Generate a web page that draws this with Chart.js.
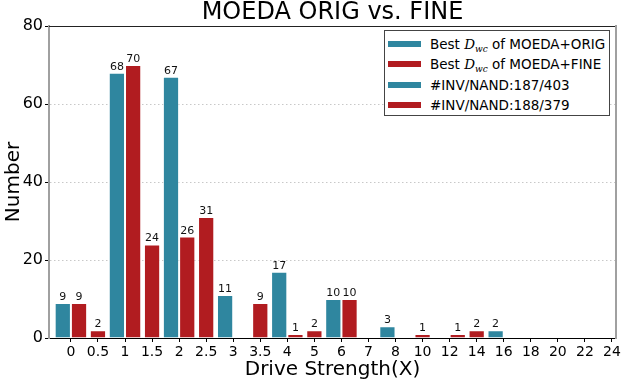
<!DOCTYPE html>
<html>
<head>
<meta charset="utf-8">
<script src="https://cdn.jsdelivr.net/npm/chart.js@4.4.1/dist/chart.umd.min.js"></script>
<style>
  html, body { margin: 0; padding: 0; background: #fff; }
  #wrap { position: relative; width: 623px; height: 382px; }
  #legend {
    position: absolute; left: 384px; top: 30px; width: 226px; height: 86px;
    box-sizing: border-box; border: 1px solid #444; background: #fff;
    padding-top: 3px; font-family: 'DejaVu Sans', sans-serif; font-size: 13.5px; color: #000;
  }
  .row { height: 20.3px; line-height: 20.3px; white-space: nowrap; position: relative; }
  .patch { position: absolute; left: 3px; top: 7px; width: 33px; height: 6px; }
  .txt { position: absolute; left: 45px; top: 0; }
  .m { font-family: 'DejaVu Serif', serif; font-style: italic; }
  .m sub { font-size: 9px; vertical-align: -3px; line-height: 0; }
</style>
</head>
<body>
<div id="wrap">
  <canvas id="chart" width="623" height="382"></canvas>
  <div id="legend"></div>
</div>
<script>
// x categories (drive strength) and bar counts
const driveLabels = ['0', '0.5', '1', '1.5', '2', '2.5', '3', '3.5', '4', '5', '6', '7', '8', '10', '12', '14', '16', '18', '20', '22', '24'];
const origCounts = [9, 0, 68, 0, 67, 0, 11, 0, 17, 0, 10, 0, 3, 0, 0, 0, 2, 0, 0, 0, 0];
// FINE counts, split the way the reference draws them:
// bars sitting next to the ORIG slot, and bars sitting on the tick itself
const fineBeside = [9, 0, 70, 0, 26, 0, 0, 0, 1, 0, 10, 0, 0, 0, 1, 0, 0, 0, 0, 0, 0];
const fineOnTick = [0, 2, 0, 24, 0, 31, 0, 9, 0, 2, 0, 0, 0, 1, 0, 2, 0, 0, 0, 0, 0];
const yTicks = [0, 20, 40, 60, 80];

const legendItems = [
    'Best <span class="m">D<sub>wc</sub></span> of MOEDA+ORIG',
    'Best <span class="m">D<sub>wc</sub></span> of MOEDA+FINE',
    '#INV/NAND:187/403',
    '#INV/NAND:188/379'
];

const TEAL = '#2f869f';
const RED = '#b11c20';
const legendColors = [TEAL, RED, TEAL, RED];

Chart.defaults.font.family = "'DejaVu Sans', sans-serif";
Chart.defaults.color = '#000';

const toPoints = arr => arr.map((v, i) => ({ x: i, y: v || null }));

// numbers above the bars
const valueLabels = {
    id: 'valueLabels',
    afterDatasetsDraw(chart) {
        const ctx = chart.ctx;
        ctx.save();
        ctx.font = '11px "DejaVu Sans"';
        ctx.fillStyle = '#111';
        ctx.textAlign = 'center';
        ctx.textBaseline = 'alphabetic';
        chart.data.datasets.forEach((ds, i) => {
            chart.getDatasetMeta(i).data.forEach((bar, j) => {
                const v = ds.data[j].y;
                if (v) ctx.fillText(v, bar.x, bar.y - 3);
            });
        });
        ctx.restore();
    }
};

new Chart(document.getElementById('chart'), {
    type: 'bar',
    data: {
        datasets: [
            { label: 'ORIG', data: toPoints(origCounts), backgroundColor: TEAL },
            { label: 'FINE', data: toPoints(fineOnTick), backgroundColor: RED },
            { label: 'FINE', data: toPoints(fineBeside), backgroundColor: RED }
        ]
    },
    options: {
        responsive: false,
        animation: false,
        layout: { padding: { left: 0, right: 7, top: 0, bottom: 0 } },
        datasets: {
            bar: {
                categoryPercentage: 0.9,
                barPercentage: 2,
                borderWidth: 1,
                borderColor: 'rgba(255,255,255,0.55)'
            }
        },
        plugins: {
            legend: { display: false },
            tooltip: { enabled: false }
        },
        scales: {
            x: {
                type: 'linear',
                position: 'bottom',
                offset: false,
                min: -0.81,
                max: 20.15,
                afterBuildTicks: s => { s.ticks = driveLabels.map((_, i) => ({ value: i })); },
                afterFit: s => { s.height = 44; },
                ticks: {
                    autoSkip: false,
                    maxRotation: 0,
                    padding: 2,
                    font: { size: 14 },
                    callback: (v, i) => driveLabels[i]
                },
                grid: { offset: false, drawOnChartArea: false, tickLength: 4, tickColor: '#000' },
                border: { color: '#000', width: 1 },
                title: {
                    display: true,
                    text: 'Drive Strength(X)',
                    font: { size: 20 },
                    padding: { top: 0, bottom: 0 }
                }
            },
            y: {
                min: 0,
                max: 80,
                afterBuildTicks: s => { s.ticks = yTicks.map(v => ({ value: v })); },
                afterFit: s => { s.width = 49; },
                ticks: { padding: 2, font: { size: 16 } },
                grid: {
                    color: c => (c.tick && (c.tick.value === 0 || c.tick.value === 80)) ? 'rgba(0,0,0,0)' : '#c8c8c8',
                    tickLength: 4,
                    tickColor: '#000'
                },
                border: { color: '#a0a0a0', width: 2, dash: [1.5, 2.5] },
                title: {
                    display: true,
                    text: 'Number',
                    font: { size: 20 },
                    padding: { top: 2, bottom: 0 }
                }
            },
            // top frame line + chart title centred over the plot
            xTop: {
                type: 'linear',
                position: 'top',
                afterFit: s => { s.height = 26; },
                ticks: { display: false },
                grid: { display: false, drawTicks: false },
                border: { color: '#222', width: 1 },
                title: {
                    display: true,
                    text: 'MOEDA ORIG vs. FINE',
                    font: { size: 24, lineHeight: 1 },
                    padding: { top: 1, bottom: 1 }
                }
            },
            // right frame line
            yRight: {
                type: 'linear',
                position: 'right',
                ticks: { display: false },
                grid: { display: false, drawTicks: false },
                border: { color: '#a0a0a0', width: 2 }
            }
        }
    },
    plugins: [valueLabels]
});

const legend = document.getElementById('legend');
legendItems.forEach((html, i) => {
    const row = document.createElement('div');
    row.className = 'row';
    row.innerHTML = '<span class="patch" style="background:' + legendColors[i] + '"></span><span class="txt">' + html + '</span>';
    legend.appendChild(row);
});
</script>
</body>
</html>
